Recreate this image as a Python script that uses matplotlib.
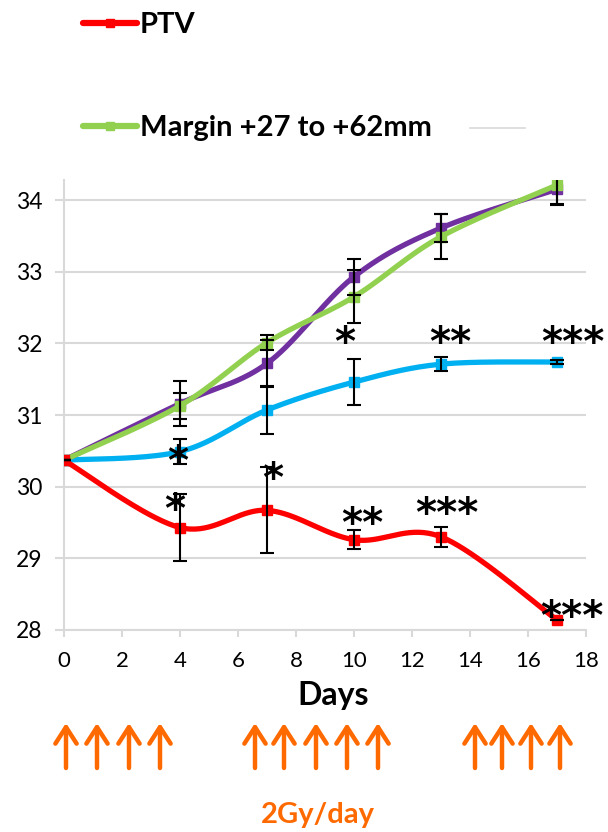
import numpy as np
import matplotlib
matplotlib.use("Agg")
import matplotlib.pyplot as plt
from matplotlib.lines import Line2D

days = [0, 4, 7, 10, 13, 17]
ptv = [30.37, 29.43, 29.67, 29.26, 29.30, 28.14]
ptv_err = [0, 0.47, 0.60, 0.13, 0.14, 0.0]
purple = [30.37, 31.16, 31.72, 32.93, 33.61, 34.15]
purple_err = [0, 0.31, 0.33, 0.25, 0.20, 0.22]
green = [30.37, 31.13, 32.01, 32.65, 33.49, 34.21]
green_err = [0, 0.18, 0.10, 0.37, 0.31, 0.26]
blue = [30.37, 30.49, 31.07, 31.46, 31.71, 31.74]
blue_err = [0, 0.18, 0.34, 0.32, 0.10, 0.03]

legend_labels = ["PTV", "Margin +27 to +62mm"]
stars = [  # (day, value, label)
    (3.93, 30.48, "*"), (3.83, 29.81, "*"), (7.2, 30.25, "*"),
    (9.69, 32.15, "*"), (13.31, 32.15, "**"), (17.55, 32.15, "***"),
    (10.28, 29.62, "**"), (13.21, 29.76, "***"), (17.52, 28.32, "***"),
]
arrow_px = [66, 97, 129, 160, 255, 284, 316, 347, 378, 475, 502, 531, 560]

RED, GREEN, PURPLE, BLUE = "#FF0000", "#92D050", "#7030A0", "#00B0F0"
ORANGE = "#FF6A00"
GRID = "#D9D9D9"
plt.rcParams["font.family"] = ["Lato", "DejaVu Sans"]


def smooth(x, y, n=40):
    x = np.asarray(x, float); y = np.asarray(y, float)
    P = np.column_stack([x, y])
    Pext = np.vstack([P[0], P, P[-1]])
    out = []
    for i in range(len(P) - 1):
        p0, p1 = P[i], P[i + 1]
        c1 = p0 + (Pext[i + 2] - Pext[i]) / 6.0
        c2 = p1 - (Pext[i + 3] - Pext[i + 1]) / 6.0
        t = np.linspace(0, 1, n)[:, None]
        seg = (1 - t) ** 3 * p0 + 3 * (1 - t) ** 2 * t * c1 + 3 * (1 - t) * t ** 2 * c2 + t ** 3 * p1
        out.append(seg if i == 0 else seg[1:])
    s = np.vstack(out)
    return s[:, 0], s[:, 1]


W, H = 608, 832
fig = plt.figure(figsize=(W / 100, H / 100), dpi=100)
ax = fig.add_axes([64 / W, 1 - 630 / H, (586 - 64) / W, (630 - 180) / H])
ax.set_xlim(0, 18)
ax.set_ylim(28, 34.28)

series = [(blue, blue_err, BLUE, 3), (purple, purple_err, PURPLE, 4),
          (green, green_err, GREEN, 5), (ptv, ptv_err, RED, 6)]
for vals, errs, col, z in series:
    sx, sy = smooth(days, vals)
    ax.plot(sx, sy, color=col, lw=3.8, zorder=z, solid_capstyle="round")
    ax.plot(days, vals, ls="none", marker="s", ms=6.5, color=col, zorder=z)
    ax.errorbar(days, vals, yerr=errs, fmt="none", ecolor="black", elinewidth=1.5,
                capsize=5, capthick=1.5, zorder=10)

for d, v, s in stars:
    ax.annotate(s, (d, v), xytext=(0, -8), textcoords="offset points",
                fontsize=29, fontweight="bold", ha="center", va="center", color="black",
                family="DejaVu Sans", zorder=11, annotation_clip=False)

ax.set_yticks([28, 29, 30, 31, 32, 33, 34])
ax.set_xticks(range(0, 19, 2))
ax.grid(axis="y", color=GRID, lw=1.5)
ax.set_axisbelow(True)
for sp in ["top", "right"]:
    ax.spines[sp].set_visible(False)
for sp in ["left", "bottom"]:
    ax.spines[sp].set_color(GRID)
    ax.spines[sp].set_linewidth(1.5)
ax.tick_params(axis="both", colors=GRID, width=1.5, labelcolor="black")
ax.tick_params(axis="x", length=5, pad=10, labelsize=16)
ax.tick_params(axis="y", length=6.5, pad=9, labelsize=16.5)
ax.set_xlabel("Days", fontsize=23, fontweight="bold", va="baseline")
ax.xaxis.set_label_coords((333 - 64) / (586 - 64), -(705 - 630) / 450)

# legend
h1 = Line2D([], [], color=RED, lw=4.5, marker="s", ms=6, solid_capstyle="round")
h2 = Line2D([], [], color=GREEN, lw=4.5, marker="s", ms=6, solid_capstyle="round")
for h, lab, yy in [(h1, legend_labels[0], 25), (h2, legend_labels[1], 128)]:
    fig.legend([h], [lab], loc="center left", bbox_to_anchor=(57 / W, 1 - yy / H),
               frameon=False, handlelength=1.85, handletextpad=0.1,
               prop={"weight": "bold", "size": 21})
fig.add_artist(Line2D([470 / W, 525 / W], [1 - 128 / H, 1 - 128 / H], color=GRID, lw=1.2,
                      transform=fig.transFigure))

for px in arrow_px:
    fig.add_artist(matplotlib.patches.FancyArrowPatch(
        (px / W, 1 - 768 / H), (px / W, 1 - 723 / H), transform=fig.transFigure,
        arrowstyle="->,head_length=7,head_width=4.5", color=ORANGE, lw=3.2,
        mutation_scale=1.7, shrinkA=0, shrinkB=0))

fig.text(318 / W, 1 - 823 / H, "2Gy/day", color=ORANGE, fontsize=21, fontweight="bold",
         ha="center", va="baseline")

fig.savefig("out.png", dpi=100)
